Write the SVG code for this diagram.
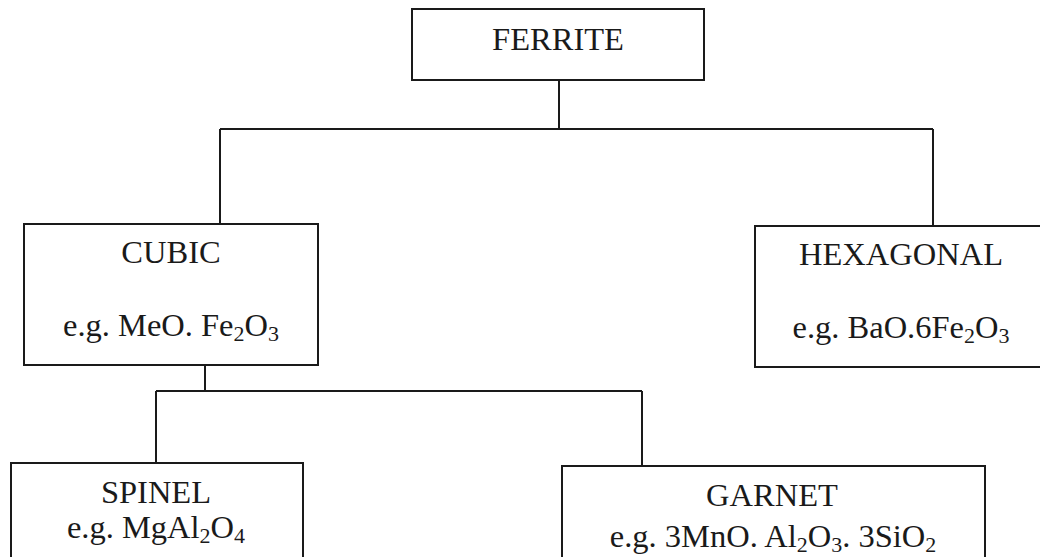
<svg xmlns="http://www.w3.org/2000/svg" width="1040" height="557" viewBox="0 0 1040 557">
<style>
.box{fill:none;stroke:#1a1a1a;stroke-width:2}
.ln{fill:none;stroke:#1a1a1a;stroke-width:2}
text{font-family:"Liberation Serif","Times New Roman",serif;font-size:32.5px;fill:#1a1a1a;text-anchor:middle}
.s{font-size:22px}
</style>
<rect width="1040" height="557" fill="#ffffff"/>
<g id="connectors">
<path class="ln" d="M559 80 V129 M220 129 H933 M220 129 V224 M933 129 V226"/>
<path class="ln" d="M205 365 V391 M156 391 H642 M156 391 V463 M642 391 V466"/>
</g>
<g id="ferrite">
<rect class="box" x="412" y="9" width="292" height="71"/>
<text x="558" y="50">FERRITE</text>
</g>
<g id="cubic">
<rect class="box" x="24" y="224" width="294" height="141"/>
<text x="171" y="263">CUBIC</text>
<text x="171" y="336">e.g. MeO. Fe<tspan class="s" dy="5">2</tspan><tspan dy="-5">O</tspan><tspan class="s" dy="5">3</tspan></text>
</g>
<g id="hexagonal">
<rect class="box" x="755" y="226" width="292" height="141"/>
<text x="901" y="265">HEXAGONAL</text>
<text x="901" y="338">e.g. BaO.6Fe<tspan class="s" dy="5">2</tspan><tspan dy="-5">O</tspan><tspan class="s" dy="5">3</tspan></text>
</g>
<g id="spinel">
<rect class="box" x="11" y="463" width="292" height="110"/>
<text x="156" y="503">SPINEL</text>
<text x="156" y="538">e.g. MgAl<tspan class="s" dy="5">2</tspan><tspan dy="-5">O</tspan><tspan class="s" dy="5">4</tspan></text>
</g>
<g id="garnet">
<rect class="box" x="562" y="466" width="423" height="110"/>
<text x="772" y="506">GARNET</text>
<text x="773" y="547">e.g. 3MnO. Al<tspan class="s" dy="5">2</tspan><tspan dy="-5">O</tspan><tspan class="s" dy="5">3</tspan><tspan dy="-5">. 3SiO</tspan><tspan class="s" dy="5">2</tspan></text>
</g>
</svg>
